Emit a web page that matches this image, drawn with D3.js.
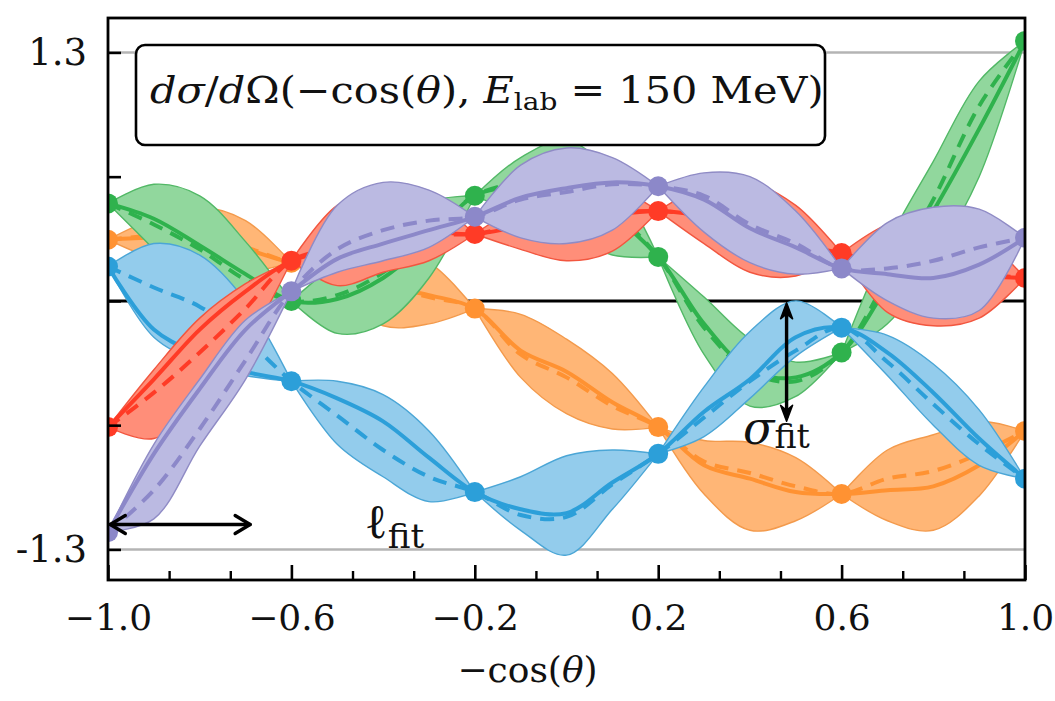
<!DOCTYPE html>
<html>
<head>
<meta charset="utf-8">
<script src="https://cdn.jsdelivr.net/npm/d3@7/dist/d3.min.js"></script>
<style>
  html, body { margin: 0; padding: 0; background: #fff; }
  svg { display: block; }
  text { font-family: "DejaVu Serif", "Liberation Serif", serif; fill: #111; }
</style>
</head>
<body>
<svg id="chart" width="1055" height="701"></svg>
<script>
// ---- sampling grid and knots -------------------------------------------
const xGrid = [-1.0, -0.9, -0.8, -0.7, -0.6, -0.5, -0.4, -0.3, -0.2, -0.1, 0.0,
               0.1, 0.2, 0.3, 0.4, 0.5, 0.6, 0.7, 0.8, 0.9, 1.0];
const knotIndex = [0, 4, 8, 12, 16, 20];

// ---- axis ticks --------------------------------------------------------
const xTicks = [-1.0, -0.6, -0.2, 0.2, 0.6, 1.0];
const xMinorTicks = [-0.8667, -0.7333, -0.4667, -0.3333, -0.0667, 0.0667,
                     0.3333, 0.4667, 0.7333, 0.8667];
const yTicks = [-1.3, -0.65, 0, 0.65, 1.3];
const yTickLabels = ["-1.3", "", "", "", "1.3"];
const refLines = [-1.3, 1.3];

// ---- series: solid line (mean), dashed line (truth), band (lo / hi) -------
const blueMean  = [0.18, -0.15, -0.28, -0.37, -0.42, -0.51, -0.63, -0.82, -1.00, -1.09, -1.11, -0.95, -0.80, -0.58, -0.41, -0.19, -0.14, -0.27, -0.48, -0.72, -0.93];
const blueTruth = [0.18,  0.07, -0.03, -0.20, -0.42, -0.60, -0.78, -0.92, -1.00, -1.12, -1.13, -0.96, -0.80, -0.61, -0.42, -0.26, -0.14, -0.32, -0.54, -0.75, -0.93];
const blueHi    = [0.18,  0.30,  0.24,  0.00, -0.42, -0.42, -0.49, -0.68, -1.00, -0.92, -0.81, -0.78, -0.80, -0.45, -0.16,  0.00, -0.14, -0.18, -0.33, -0.57, -0.93];
const blueLo    = [0.18, -0.19, -0.32, -0.39, -0.42, -0.75, -0.92, -1.05, -1.00, -1.20, -1.33, -1.09, -0.80, -0.71, -0.51, -0.29, -0.14, -0.39, -0.65, -0.86, -0.93];

const greenMean  = [0.51, 0.43, 0.29, 0.14, 0.00, 0.01, 0.12, 0.32, 0.55, 0.60, 0.60, 0.45, 0.23, -0.12, -0.36, -0.40, -0.27, 0.08, 0.47, 0.90, 1.36];
const greenTruth = [0.51, 0.40, 0.27, 0.11, 0.00, 0.03, 0.15, 0.35, 0.55, 0.62, 0.62, 0.47, 0.23, -0.14, -0.37, -0.42, -0.27, 0.12, 0.53, 1.02, 1.36];
const greenHi    = [0.51, 0.61, 0.55, 0.31, 0.00, 0.20, 0.36, 0.52, 0.55, 0.75, 0.84, 0.66, 0.23,  0.02, -0.20, -0.32, -0.27, 0.30, 0.73, 1.15, 1.36];
const greenLo    = [0.51, 0.27, 0.03, -0.05, 0.00, -0.17, -0.12, 0.12, 0.55, 0.45, 0.36, 0.24, 0.23, -0.28, -0.55, -0.50, -0.27, -0.12, 0.21, 0.65, 1.36];

const orangeMean  = [0.32, 0.33, 0.32, 0.27, 0.20, 0.17, 0.08, 0.03, -0.04, -0.26, -0.37, -0.53, -0.66, -0.86, -0.93, -1.00, -1.01, -0.99, -0.97, -0.86, -0.68];
const orangeTruth = [0.32, 0.34, 0.33, 0.28, 0.20, 0.17, 0.08, 0.02, -0.04, -0.28, -0.40, -0.55, -0.66, -0.84, -0.90, -0.97, -1.01, -0.93, -0.89, -0.80, -0.68];
const orangeHi    = [0.32, 0.43, 0.49, 0.42, 0.20, 0.30, 0.26, 0.20, -0.04, -0.07, -0.20, -0.38, -0.66, -0.73, -0.74, -0.82, -1.01, -0.78, -0.70, -0.63, -0.68];
const orangeLo    = [0.32, 0.22, 0.17, 0.15, 0.20, 0.05, -0.13, -0.12, -0.04, -0.40, -0.59, -0.67, -0.66, -1.01, -1.20, -1.15, -1.01, -1.15, -1.20, -1.02, -0.68];

const redMean  = [-0.66, -0.41, -0.15, 0.05, 0.21, 0.27, 0.34, 0.36, 0.35, 0.39, 0.42, 0.45, 0.47, 0.44, 0.36, 0.29, 0.25, 0.18, 0.15, 0.13, 0.12];
const redTruth = [-0.66, -0.48, -0.27, -0.04, 0.21, 0.28, 0.33, 0.35, 0.35, 0.40, 0.43, 0.46, 0.47, 0.44, 0.35, 0.28, 0.25, 0.20, 0.17, 0.14, 0.12];
const redHi    = [-0.66, -0.36, -0.09, 0.09, 0.21, 0.50, 0.58, 0.53, 0.35, 0.50, 0.60, 0.60, 0.47, 0.60, 0.62, 0.50, 0.25, 0.40, 0.45, 0.35, 0.12];
const redLo    = [-0.66, -0.72, -0.52, -0.23, 0.21, 0.08, 0.15, 0.21, 0.35, 0.27, 0.21, 0.26, 0.47, 0.30, 0.15, 0.13, 0.25, -0.06, -0.13, -0.09, 0.12];

const purpleMean  = [-1.21, -0.80, -0.46, -0.15, 0.05, 0.22, 0.30, 0.37, 0.44, 0.54, 0.59, 0.62, 0.60, 0.53, 0.38, 0.28, 0.17, 0.14, 0.12, 0.19, 0.33];
const purpleTruth = [-1.21, -0.99, -0.67, -0.31, 0.05, 0.27, 0.37, 0.42, 0.44, 0.53, 0.57, 0.61, 0.60, 0.55, 0.40, 0.30, 0.17, 0.17, 0.21, 0.28, 0.33];
const purpleHi    = [-1.21, -0.75, -0.41, -0.10, 0.05, 0.50, 0.62, 0.58, 0.44, 0.71, 0.80, 0.75, 0.60, 0.67, 0.65, 0.47, 0.17, 0.41, 0.49, 0.48, 0.33];
const purpleLo    = [-1.21, -1.14, -0.76, -0.41, 0.05, 0.15, 0.21, 0.28, 0.44, 0.33, 0.30, 0.37, 0.60, 0.36, 0.20, 0.14, 0.17, 0.00, -0.09, -0.05, 0.33];

// drawing order, bottom to top
const series = [
  { name: "orange", mean: orangeMean, truth: orangeTruth, hi: orangeHi, lo: orangeLo,
    line: "#ff9232", fill: "#ffb676", edge: "#f39a4c" },
  { name: "green",  mean: greenMean,  truth: greenTruth,  hi: greenHi,  lo: greenLo,
    line: "#2fb24d", fill: "#91d79d", edge: "#52b866" },
  { name: "blue",   mean: blueMean,   truth: blueTruth,   hi: blueHi,   lo: blueLo,
    line: "#2c9fd9", fill: "#93ccec", edge: "#4ba6d6" },
  { name: "red",    mean: redMean,    truth: redTruth,    hi: redHi,    lo: redLo,
    line: "#ff3b26", fill: "#ff8e79", edge: "#f2563f" },
  { name: "purple", mean: purpleMean, truth: purpleTruth, hi: purpleHi, lo: purpleLo,
    line: "#8c88c9", fill: "#bbbae2", edge: "#8f8bc5" }
];

// ---- layout ------------------------------------------------------------
const plot = { left: 108, right: 1025, top: 18, bottom: 580 };
const svg = d3.select("#chart");
const x = d3.scaleLinear().domain([-1, 1]).range([plot.left, plot.right]);
const y = d3.scaleLinear().domain([-1.46, 1.48]).range([plot.bottom, plot.top]);

svg.append("defs").append("clipPath").attr("id", "plotClip")
  .append("rect")
  .attr("x", plot.left).attr("y", plot.top)
  .attr("width", plot.right - plot.left).attr("height", plot.bottom - plot.top);

const body = svg.append("g").attr("clip-path", "url(#plotClip)");

// reference lines at +-1.3 and the zero line
body.selectAll("line.ref").data(refLines).join("line")
  .attr("class", "ref")
  .attr("x1", plot.left).attr("x2", plot.right)
  .attr("y1", d => y(d)).attr("y2", d => y(d))
  .attr("stroke", "#b4b4b4").attr("stroke-width", 2.5);

body.append("line")
  .attr("x1", plot.left).attr("x2", plot.right)
  .attr("y1", y(0)).attr("y2", y(0))
  .attr("stroke", "#000").attr("stroke-width", 3);

// ---- bands, lines and knot markers --------------------------------------
const segs = d3.range(knotIndex.length - 1).map(k => d3.range(knotIndex[k], knotIndex[k + 1] + 1));
const smooth = d3.curveCatmullRom.alpha(0.5);

series.forEach(s => {
  const g = body.append("g").attr("class", "series-" + s.name);
  const area = d3.area()
    .x(i => x(xGrid[i]))
    .y0(i => y(s.lo[i]))
    .y1(i => y(s.hi[i]))
    .curve(smooth);
  g.selectAll("path.band").data(segs).join("path")
    .attr("class", "band")
    .attr("d", area)
    .attr("fill", s.fill)
    .attr("stroke", s.edge)
    .attr("stroke-width", 1.4);

  const idx = d3.range(xGrid.length);
  const meanLine = d3.line().x(i => x(xGrid[i])).y(i => y(s.mean[i])).curve(smooth);
  const truthLine = d3.line().x(i => x(xGrid[i])).y(i => y(s.truth[i])).curve(smooth);

  g.append("path").attr("d", meanLine(idx))
    .attr("fill", "none").attr("stroke", s.line).attr("stroke-width", 4)
    .attr("stroke-linecap", "round");
  g.append("path").attr("d", truthLine(idx))
    .attr("fill", "none").attr("stroke", s.line).attr("stroke-width", 4)
    .attr("stroke-dasharray", "14,9");

  g.selectAll("circle").data(knotIndex).join("circle")
    .attr("cx", i => x(xGrid[i]))
    .attr("cy", i => y(s.mean[i]))
    .attr("r", 10)
    .attr("fill", s.line);
});

// ---- annotations: correlation length and amplitude ----------------------
const ann = svg.append("g").attr("stroke", "#000").attr("fill", "none")
  .attr("stroke-width", 3.4).attr("stroke-linecap", "round").attr("stroke-linejoin", "round");

const ellArrow = { x0: -0.995, x1: -0.69, y: -1.17 };
ann.append("line")
  .attr("x1", x(ellArrow.x0)).attr("x2", x(ellArrow.x1))
  .attr("y1", y(ellArrow.y)).attr("y2", y(ellArrow.y));
[[ellArrow.x0, 1], [ellArrow.x1, -1]].forEach(([xv, dir]) => {
  const px = x(xv), py = y(ellArrow.y);
  ann.append("polyline")
    .attr("points", `${px + dir * 15},${py - 9} ${px},${py} ${px + dir * 15},${py + 9}`);
});

const sigArrow = { x: 0.48, y0: -0.01, y1: -0.63 };
ann.append("line")
  .attr("x1", x(sigArrow.x)).attr("x2", x(sigArrow.x))
  .attr("y1", y(sigArrow.y0) + 4).attr("y2", y(sigArrow.y1) - 4);
[[sigArrow.y0, 1], [sigArrow.y1, -1]].forEach(([yv, dir]) => {
  const px = x(sigArrow.x), py = y(yv);
  ann.append("path")
    .attr("d", `M${px},${py} L${px - 6},${py + dir * 16} L${px},${py + dir * 11} L${px + 6},${py + dir * 16} Z`)
    .attr("fill", "#000").attr("stroke-width", 1.5);
});

const sigLabel = svg.append("text")
  .attr("x", x(0.385)).attr("y", y(-0.75));
sigLabel.append("tspan").attr("font-style", "italic").attr("font-size", 46).text("σ");
sigLabel.append("tspan").attr("font-size", 33).attr("dy", 4).text("fit");

const ellLabel = svg.append("text")
  .attr("x", x(-0.44)).attr("y", y(-1.24));
ellLabel.append("tspan").attr("font-size", 48).text("ℓ");
ellLabel.append("tspan").attr("font-size", 34).attr("dy", 10).text("fit");

// ---- legend box --------------------------------------------------------
const legend = svg.append("g");
legend.append("rect")
  .attr("x", 136).attr("y", 45).attr("width", 689).attr("height", 100)
  .attr("rx", 9).attr("ry", 9)
  .attr("fill", "#fff").attr("stroke", "#000").attr("stroke-width", 2.6);
const lt = legend.append("text")
  .attr("transform", "translate(150,103) scale(1.12,1)")
  .attr("font-size", 37);
[
  ["d", "italic"], ["σ", "italic"], ["/", null], ["d", "italic"], ["Ω(−cos(", null],
  ["θ", "italic"], ["), ", null], ["E", "italic"]
].forEach(([t, st]) => lt.append("tspan").attr("font-style", st).text(t));
lt.append("tspan").attr("font-size", 25).attr("dy", 7).text("lab");
lt.append("tspan").attr("dy", -7).text(" = 150 MeV)");

// ---- axes --------------------------------------------------------------
const xAxis = d3.axisBottom(x).tickValues(xTicks)
  .tickSizeInner(-15).tickSizeOuter(0).tickPadding(24)
  .tickFormat(d => d3.format(".1f")(d).replace("-", "−"));
const gx = svg.append("g").attr("transform", `translate(0,${plot.bottom})`).call(xAxis);
gx.select(".domain").remove();
gx.selectAll(".tick line").attr("stroke", "#000").attr("stroke-width", 2.6);
gx.selectAll(".tick text").attr("font-size", 36).attr("fill", "#111")
  .attr("font-family", "DejaVu Serif, serif");

const xMinor = d3.axisBottom(x).tickValues(xMinorTicks)
  .tickSizeInner(-9).tickSizeOuter(0).tickFormat("");
const gxm = svg.append("g").attr("transform", `translate(0,${plot.bottom})`).call(xMinor);
gxm.select(".domain").remove();
gxm.selectAll(".tick line").attr("stroke", "#000").attr("stroke-width", 2.4);

const yAxis = d3.axisLeft(y).tickValues(yTicks)
  .tickSizeInner(-13).tickSizeOuter(0).tickPadding(21)
  .tickFormat((d, i) => yTickLabels[i]);
const gy = svg.append("g").attr("transform", `translate(${plot.left},0)`).call(yAxis);
gy.select(".domain").remove();
gy.selectAll(".tick line").attr("stroke", "#000").attr("stroke-width", 2.6);
gy.selectAll(".tick text").attr("font-size", 37).attr("fill", "#111")
  .attr("font-family", "DejaVu Serif, serif");

// plot frame
svg.append("rect")
  .attr("x", plot.left).attr("y", plot.top)
  .attr("width", plot.right - plot.left).attr("height", plot.bottom - plot.top)
  .attr("fill", "none").attr("stroke", "#000").attr("stroke-width", 2.8);

// x-axis title
const xt = svg.append("text")
  .attr("x", x(-0.085)).attr("y", 682)
  .attr("text-anchor", "middle").attr("font-size", 36);
xt.append("tspan").text("−cos(");
xt.append("tspan").attr("font-style", "italic").text("θ");
xt.append("tspan").text(")");
</script>
</body>
</html>
